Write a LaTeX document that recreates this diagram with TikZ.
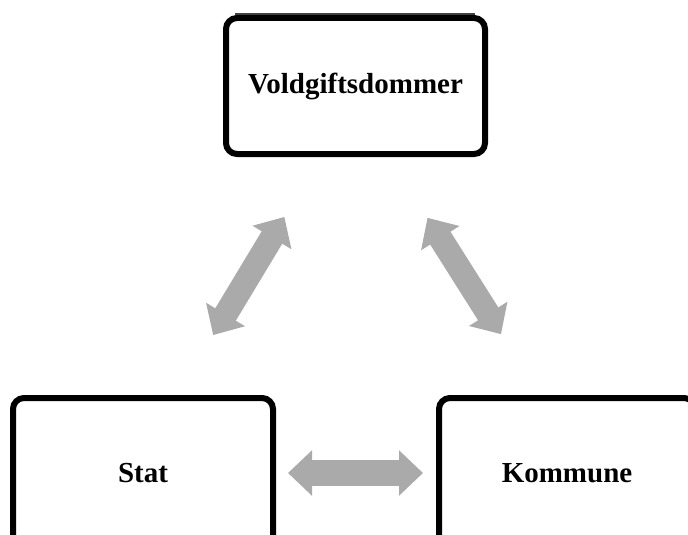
\documentclass[tikz,border=0pt]{standalone}
\usepackage{fontspec}
\setmainfont{Liberation Serif}
\usetikzlibrary{arrows.meta}
\definecolor{pilgraa}{RGB}{170,170,170}
\tikzstyle{boks} = [draw, line width=6pt, rounded corners=11pt, align=center,
  minimum width=259pt, minimum height=136pt, font=\fontsize{29}{34}\selectfont\bfseries]
\tikzstyle{pil} = [draw=pilgraa, line width=24pt,
  {Triangle[length=24pt,width=44pt]}-{Triangle[length=24pt,width=44pt]}]

\begin{document}
\begin{tikzpicture}[x=1pt,y=-1pt]
  \useasboundingbox (0,0) rectangle (688,535);
  \node [boks] (dommer) at (355.5,86) {Voldgiftsdommer};
  \node [boks, minimum width=260pt, minimum height=150pt] (stat) at (143,473) {Stat};
  \node [boks, minimum width=256pt, minimum height=150pt] (kommune) at (567,473) {Kommune};
  \draw [darkgray, line width=2pt] (235,14) -- (475,14);
  \draw [pil, shorten <=70pt, shorten >=70pt]
    ([xshift=-35pt]dommer.south) -- ([xshift=34pt]stat.north);
  \draw [pil, shorten <=72pt, shorten >=72pt]
    ([xshift=33.5pt]dommer.south) -- ([xshift=-27.5pt]kommune.north);
  \draw [pil, line width=26pt, shorten <=12pt, shorten >=13pt] (stat) -- (kommune);
\end{tikzpicture}
\end{document}
